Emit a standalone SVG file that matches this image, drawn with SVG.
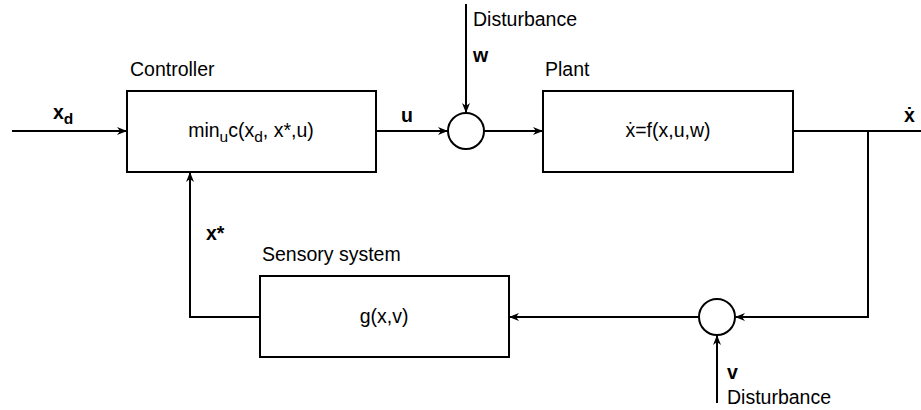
<svg xmlns="http://www.w3.org/2000/svg" width="921" height="410" viewBox="0 0 921 410">
<style>
text{font-family:"Liberation Sans",Arial,sans-serif;font-size:19.5px;fill:#000}
.b{font-weight:bold}
.box{fill:#fff;stroke:#000;stroke-width:2}
.ln{fill:none;stroke:#000;stroke-width:2}
.sub{font-size:15.5px}
</style>
<defs>
<marker id="ah" markerWidth="10" markerHeight="10" refX="9" refY="5" orient="auto" markerUnits="userSpaceOnUse">
<path d="M0,1 L10,5 L0,9 L3,5 Z" fill="#000"/>
</marker>
</defs>
<g id="connectors">
<path class="ln" d="M12,131 H126" marker-end="url(#ah)"/>
<path class="ln" d="M376,131 H447" marker-end="url(#ah)"/>
<path class="ln" d="M466,4 V112" marker-end="url(#ah)"/>
<path class="ln" d="M484,131 H542" marker-end="url(#ah)"/>
<path class="ln" d="M793,131 H921"/>
<path class="ln" d="M868,131 V317 H736" marker-end="url(#ah)"/>
<path class="ln" d="M699,317 H510" marker-end="url(#ah)"/>
<path class="ln" d="M717,403 V336" marker-end="url(#ah)"/>
<path class="ln" d="M260,317 H190 V173" marker-end="url(#ah)"/>
</g>
<g id="controller">
<rect class="box" x="127" y="91" width="249" height="81"/>
<text x="130" y="76">Controller</text>
<text x="251" y="137" text-anchor="middle">min<tspan class="sub" dy="5">u</tspan><tspan dy="-5">c(x</tspan><tspan class="sub" dy="5">d</tspan><tspan dy="-5">, x*,u)</tspan></text>
</g>
<g id="sum1">
<circle class="box" cx="466" cy="131" r="18"/>
</g>
<g id="plant">
<rect class="box" x="543" y="91" width="250" height="81"/>
<text x="545" y="76">Plant</text>
<text x="668" y="137" text-anchor="middle">ẋ=f(x,u,w)</text>
</g>
<g id="sum2">
<circle class="box" cx="717" cy="317" r="18"/>
</g>
<g id="sensory">
<rect class="box" x="260" y="276" width="249" height="81"/>
<text x="262" y="261">Sensory system</text>
<text x="384" y="323" text-anchor="middle">g(x,v)</text>
</g>
<g id="labels">
<text class="b" x="53" y="119">x<tspan class="sub" dy="5">d</tspan></text>
<text class="b" x="401" y="122">u</text>
<text x="473" y="26">Disturbance</text>
<text class="b" x="473" y="62">w</text>
<text class="b" x="904" y="122">ẋ</text>
<text class="b" x="206" y="240">x*</text>
<text class="b" x="727" y="379">v</text>
<text x="727" y="404">Disturbance</text>
</g>
</svg>
